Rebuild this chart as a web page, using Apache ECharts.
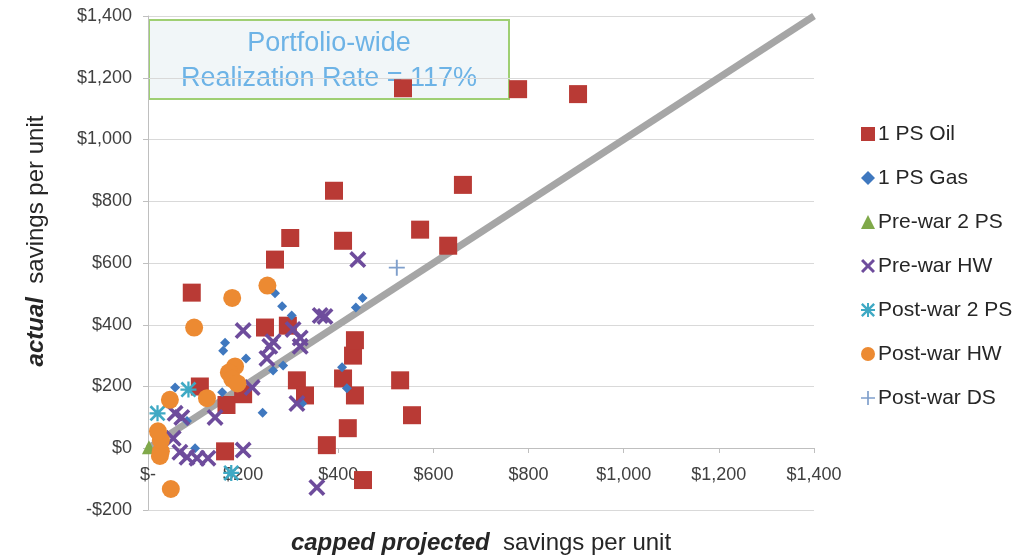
<!DOCTYPE html>
<html>
<head>
<meta charset="utf-8">
<script src="https://cdn.jsdelivr.net/npm/echarts@6/dist/echarts.min.js"></script>
<style>
  html, body { margin: 0; padding: 0; background: #fff; }
  #chart { width: 1036px; height: 557px; }
</style>
</head>
<body>
<div id="chart"></div>
<script>
    // values: [capped projected, actual] per unit
    var psOil = [[92, 504], [109, 200], [162, -10], [165, 140], [200, 175], [246, 391], [267, 611],
        [294, 397], [299, 681], [313, 220], [330, 171], [376, 10], [391, 834], [410, 672],
        [410, 226], [420, 65], [431, 300], [435, 350], [435, 171], [452, -103], [530, 220],
        [536, 1166], [555, 107], [572, 708], [631, 656], [662, 853], [778, 1163], [904, 1147]];
    var psGas = [[57, 197], [82, 88], [99, 0], [156, 181], [158, 316], [162, 342], [206, 291],
        [241, 115], [263, 252], [284, 268], [282, 460], [302, 430], [324, 145], [408, 262],
        [418, 194], [437, 456], [451, 487], [267, 502]];
    var preWar2ps = [[2, 3]];
    var preWarHw = [[53, 32], [57, 113], [67, -13], [71, 100], [82, -29], [103, -32], [126, -32],
        [141, 100], [200, -6], [200, 381], [219, 197], [250, 291], [256, 330], [263, 345],
        [305, 385], [313, 145], [320, 330], [320, 357], [355, -127], [362, 430], [372, 427], [441, 611]];
    var postWar2ps = [[20, 113], [85, 190], [175, -80]];
    var postWarHw = [[48, -132], [25, -25], [27, -10], [27, 26], [21, 55], [46, 157], [124, 162],
        [97, 391], [177, 487], [251, 527], [183, 265], [170, 245], [177, 225], [188, 210]];
    var postWarDs = [[523, 585]];
    var parityLine = [[0, 0], [1400, 1400]];

    var xTicks = ['$-', '$200', '$400', '$600', '$800', '$1,000', '$1,200', '$1,400'];
    var yTicks = ['-$200', '$0', '$200', '$400', '$600', '$800', '$1,000', '$1,200', '$1,400'];
    var seriesNames = ['1 PS Oil', '1 PS Gas', 'Pre-war 2 PS', 'Pre-war HW', 'Post-war 2 PS', 'Post-war HW', 'Post-war DS'];

    var X_PATH = 'path://M0,1.5 L1.5,0 L5,3.5 L8.5,0 L10,1.5 L6.5,5 L10,8.5 L8.5,10 L5,6.5 L1.5,10 L0,8.5 L3.5,5 Z';
    var STAR_PATH = 'path://M0,1.2 L1.2,0 L5,3.8 L8.8,0 L10,1.2 L6.2,5 L10,8.8 L8.8,10 L5,6.2 L1.2,10 L0,8.8 L3.8,5 Z ' +
        'M4.3,0 L5.7,0 L5.7,4.3 L10,4.3 L10,5.7 L5.7,5.7 L5.7,10 L4.3,10 L4.3,5.7 L0,5.7 L0,4.3 L4.3,4.3 Z';
    var PLUS_PATH = 'path://M4.4,0 L5.6,0 L5.6,4.4 L10,4.4 L10,5.6 L5.6,5.6 L5.6,10 L4.4,10 L4.4,5.6 L0,5.6 L0,4.4 L4.4,4.4 Z';

    var font = '"Liberation Sans", Arial, sans-serif';
    var myChart = echarts.init(document.getElementById('chart'));

    function scatter(name, data, symbol, size, color) {
        return {
            name: name,
            type: 'scatter',
            data: data,
            symbol: symbol,
            symbolSize: size,
            itemStyle: {color: color, opacity: 1},
            z: 3
        };
    }

    var option = {
        animation: false,
        textStyle: {fontFamily: font},
        grid: {left: 148, right: 222, top: 16, bottom: 47, outerBoundsMode: 'none', containLabel: false},
        legend: {
            orient: 'vertical',
            left: 856,
            top: 117,
            itemWidth: 14,
            itemHeight: 14,
            itemGap: 20,
            data: seriesNames,
            textStyle: {fontSize: 21, color: '#262626', lineHeight: 24, padding: [0, 0, 0, -2]}
        },
        xAxis: {
            type: 'value',
            min: 0,
            max: 1400,
            interval: 200,
            // the category axis crosses at $0, i.e. 62px above the bottom of the grid
            offset: -62,
            name: '{b|capped projected}  savings per unit',
            nameLocation: 'middle',
            nameGap: 83,
            nameTextStyle: {
                fontSize: 24,
                color: '#262626',
                rich: {b: {fontSize: 24, fontWeight: 'bold', fontStyle: 'italic', color: '#262626'}}
            },
            axisLine: {onZero: false, lineStyle: {color: '#bfbfbf', width: 1}},
            axisTick: {show: true, length: 5, lineStyle: {color: '#bfbfbf'}},
            splitLine: {show: false},
            axisLabel: {
                fontSize: 18,
                color: '#404040',
                margin: 18,
                formatter: function (v) { return xTicks[Math.round(v / 200)]; }
            }
        },
        yAxis: {
            type: 'value',
            min: -200,
            max: 1400,
            interval: 200,
            name: '{b|actual}  savings per unit',
            nameLocation: 'middle',
            nameGap: 100,
            nameTextStyle: {
                fontSize: 24,
                color: '#262626',
                padding: [0, 0, 0, 44],
                rich: {b: {fontSize: 24, fontWeight: 'bold', fontStyle: 'italic', color: '#262626'}}
            },
            axisLine: {show: true, onZero: false, lineStyle: {color: '#bfbfbf', width: 1}},
            axisTick: {show: true, length: 5, lineStyle: {color: '#bfbfbf'}},
            splitLine: {show: true, lineStyle: {color: '#d9d9d9', width: 1}},
            axisLabel: {
                fontSize: 18,
                color: '#404040',
                margin: 16,
                formatter: function (v) { return yTicks[Math.round((v + 200) / 200)]; }
            }
        },
        series: [
            {
                name: 'parity',
                type: 'line',
                data: parityLine,
                symbol: 'none',
                silent: true,
                lineStyle: {color: '#a6a6a6', width: 7},
                z: 2
            },
            scatter('1 PS Oil', psOil, 'rect', 18, '#b93a35'),
            scatter('1 PS Gas', psGas, 'diamond', 10, '#3f78bf'),
            scatter('Pre-war 2 PS', preWar2ps, 'triangle', 14, '#80a94a'),
            scatter('Pre-war HW', preWarHw, X_PATH, 17, '#6e4c9c'),
            scatter('Post-war 2 PS', postWar2ps, STAR_PATH, 16, '#3fa9c4'),
            scatter('Post-war HW', postWarHw, 'circle', 18, '#ec8a32'),
            scatter('Post-war DS', postWarDs, PLUS_PATH, 16, '#7f9fcb')
        ],
        graphic: [
            {
                type: 'group',
                left: 148,
                top: 19,
                z: 100,
                children: [
                    {
                        type: 'rect',
                        shape: {x: 0, y: 0, width: 360, height: 79},
                        style: {fill: 'rgba(236,242,245,0.72)', stroke: '#9fcf73', lineWidth: 2}
                    },
                    {
                        type: 'text',
                        x: 180,
                        y: 41,
                        style: {
                            text: 'Portfolio-wide\nRealization Rate = 117%',
                            font: '27px ' + font,
                            fill: '#6db3e6',
                            align: 'center',
                            verticalAlign: 'middle',
                            lineHeight: 35
                        }
                    }
                ]
            }
        ]
    };
    myChart.setOption(option, true);
</script>
</body>
</html>
